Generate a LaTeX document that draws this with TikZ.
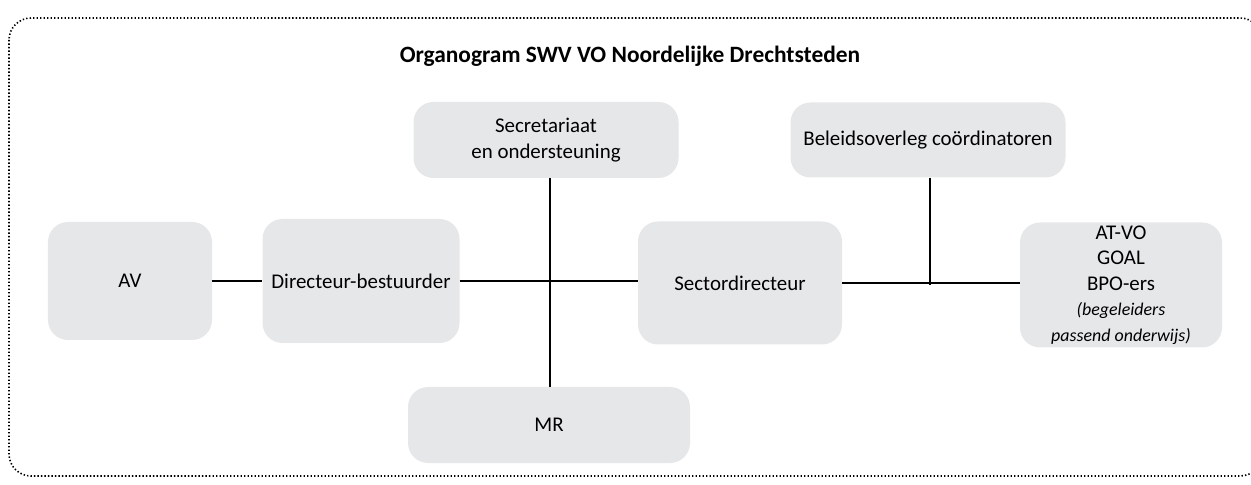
\documentclass[tikz,border=0pt]{standalone}
\usepackage{fontspec}
\setmainfont{Carlito}
\definecolor{boxgray}{RGB}{230,231,233}
\begin{document}
\begin{tikzpicture}[x=1bp,y=-1bp,
  orgbox/.style={rectangle, rounded corners=20bp, fill=boxgray, draw=none,
    align=center, inner sep=0pt, font=\fontsize{21}{25.5}\selectfont},
  link/.style={line width=1.7bp, black}]
\useasboundingbox (0,0) rectangle (1251,485);
\draw[line width=1.6bp, dash pattern=on 1.4bp off 2.1bp, rounded corners=22bp]
  (9,18) rectangle (1262,476);
\node[font=\bfseries\fontsize{23.5}{28}\selectfont] (title) at (630,56) {Organogram SWV VO Noordelijke Drechtsteden};
\node[orgbox, minimum width=164bp, minimum height=118bp] (av) at (130,281) {AV};
\node[orgbox, minimum width=197bp, minimum height=124bp] (dir) at (361,281) {Directeur-bestuurder};
\node[orgbox, minimum width=265bp, minimum height=76bp] (sec) at (546,140) {Secretariaat\\en ondersteuning};
\node[orgbox, minimum width=204bp, minimum height=123bp] (sector) at (740,283) {Sectordirecteur};
\node[orgbox, minimum width=275bp, minimum height=75bp] (bel) at (928,140) {Beleidsoverleg coördinatoren};
\node[orgbox, minimum width=202bp, minimum height=125bp] (at) at (1121,285)
  {AT-VO\\GOAL\\BPO-ers\\{\itshape\fontsize{18}{25}\selectfont (begeleiders}\\{\itshape\fontsize{18}{25}\selectfont passend onderwijs)}};
\node[orgbox, minimum width=282bp, minimum height=76bp] (mr) at (549,425) {MR};
\coordinate (v1) at (550,282);
\coordinate (v2) at (930,285);
\draw[link] (av.east) -- (av.east -| dir.west);
\draw[link] (dir.east) -- (dir.east -| sector.west);
\draw[link] (sector.east) -- (sector.east -| at.west);
\draw[link] (sec.south -| v1) -- (mr.north -| v1);
\draw[link] (bel.south -| v2) -- (v2);
\end{tikzpicture}
\end{document}
